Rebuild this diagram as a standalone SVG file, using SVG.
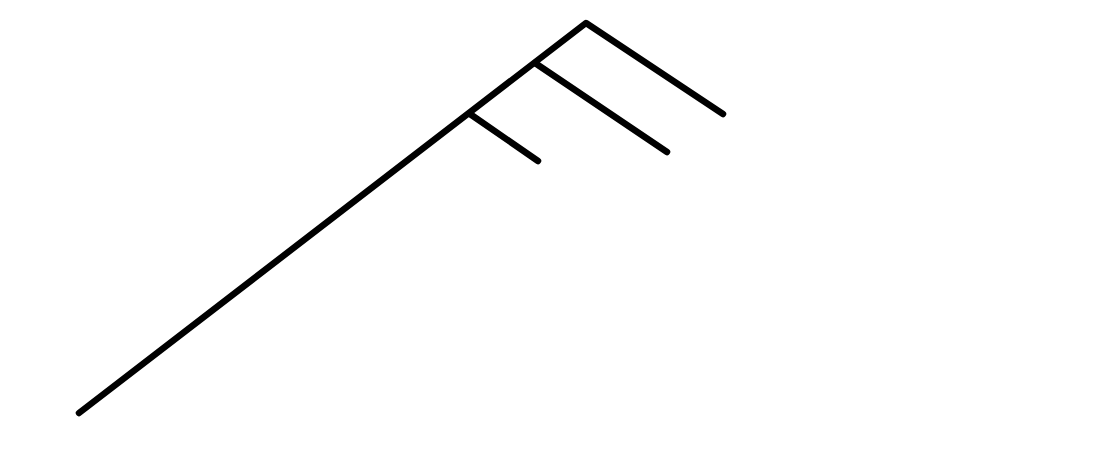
<svg xmlns="http://www.w3.org/2000/svg" width="1100" height="450" viewBox="0 0 1100 450">
<style>
.edge{fill:none;stroke:#000;stroke-width:6.5;stroke-linecap:round;stroke-linejoin:round}
</style>
<rect width="1100" height="450" fill="#fff"/>
<g id="connectors">
<path class="edge" d="M79,413 L586,23 L723,114"/>
<path class="edge" d="M535,63 L667,152"/>
<path class="edge" d="M470,114 L538,161"/>
</g>
</svg>
